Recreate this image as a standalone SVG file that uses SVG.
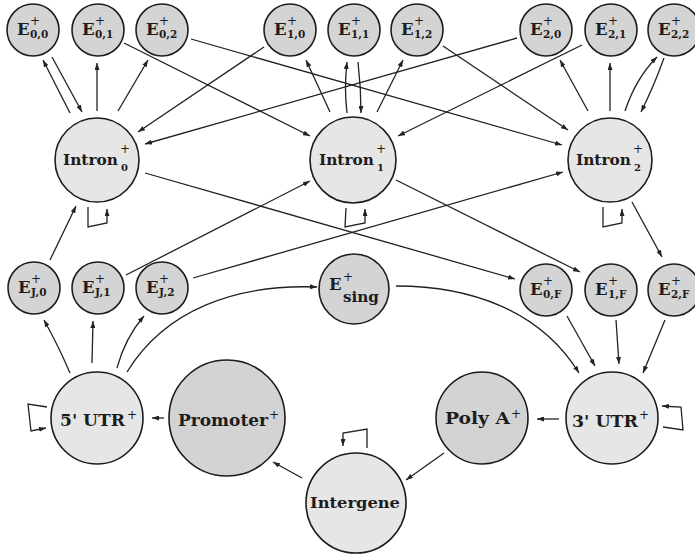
<svg xmlns="http://www.w3.org/2000/svg" width="695" height="556" viewBox="0 0 695 556">
<style>
  .bg{fill:#ffffff}
  .ne{fill:#d4d4d4;stroke:#1c1c1c;stroke-width:1.6}
  .ni{fill:#e6e6e6;stroke:#1c1c1c;stroke-width:1.6}
  .nd{fill:#d3d3d3;stroke:#1c1c1c;stroke-width:1.6}
  text{font-family:"DejaVu Serif","Liberation Serif",serif;font-weight:bold;fill:#1c1c1c}
  .eb{font-size:16.5px}
  .sup{font-size:12px;font-weight:normal}
  .sub{font-size:10.5px}
  .lb{font-size:15.5px}
  .isub{font-size:10px}
  .big{font-size:17px}
  .edge{fill:none;stroke:#222;stroke-width:1.3;marker-end:url(#ah)}
  .loop{fill:none;stroke:#222;stroke-width:1.3;marker-end:url(#ah)}
</style>
<defs>
  <marker id="ah" viewBox="0 0 7 5" refX="7" refY="2.5" markerWidth="7" markerHeight="5" markerUnits="userSpaceOnUse" orient="auto">
    <path d="M0,0 L7,2.5 L0,5 z" fill="#222"/>
  </marker>
</defs>
<rect class="bg" x="0" y="0" width="695" height="556"/>

<g id="connectors">
  <path class="edge" d="M52,57 L82,112"/>
  <path class="edge" d="M70,113 L43,60"/>
  <path class="edge" d="M97,111 L97,63"/>
  <path class="edge" d="M118,111 L148,60"/>
  <path class="edge" d="M124,43 L310,136"/>
  <path class="edge" d="M191,39 L562,145"/>
  <path class="edge" d="M264,47 L138,132"/>
  <path class="edge" d="M330,112 L306,60"/>
  <path class="edge" d="M347,113 Q344,88 347,62"/>
  <path class="edge" d="M358,62 Q361,88 361,113"/>
  <path class="edge" d="M377,112 L403,60"/>
  <path class="edge" d="M443,46 L568,130"/>
  <path class="edge" d="M517,38 L145,144"/>
  <path class="edge" d="M582,45 L398,136"/>
  <path class="edge" d="M588,111 L560,60"/>
  <path class="edge" d="M610,111 L610,63"/>
  <path class="edge" d="M625,111 Q636,78 657,57"/>
  <path class="edge" d="M664,58 Q654,86 641,112"/>
  <path class="loop" d="M88,207 L88,227 L107,223 L107,209"/>
  <path class="loop" d="M346,208 L345,227 L365,223 L365,209"/>
  <path class="loop" d="M603,207 L603,227 L622,223 L622,209"/>
  <path class="edge" d="M50,260 L76,206"/>
  <path class="edge" d="M126,275 L310,181"/>
  <path class="edge" d="M193,278 L563,172"/>
  <path class="edge" d="M145,173 L515,279"/>
  <path class="edge" d="M396,180 L580,272"/>
  <path class="edge" d="M632,202 L662,257"/>
  <path class="edge" d="M70,373 Q58,345 44,320"/>
  <path class="edge" d="M92,363 L93,321"/>
  <path class="edge" d="M117,368 Q125,338 144,316"/>
  <path class="edge" d="M127,372 C165,310 235,284 317,287"/>
  <path class="edge" d="M396,286 C470,286 540,310 579,373"/>
  <path class="edge" d="M567,316 L595,366"/>
  <path class="edge" d="M616,320 L619,364"/>
  <path class="edge" d="M665,320 L643,373"/>
  <path class="edge" d="M164,418 L152,418"/>
  <path class="edge" d="M559,419 L537,419"/>
  <path class="edge" d="M444,453 L406,480"/>
  <path class="edge" d="M302,478 L273,462"/>
  <path class="loop" d="M47,407 L28,404 L31,431 L46,428"/>
  <path class="loop" d="M663,427 L683,430 L681,407 L662,406"/>
  <path class="loop" d="M367,448 L367,429 L343,433 L343,446"/>
</g>

<g id="E00"><circle class="ne" cx="33" cy="30" r="26"/><text class="eb" x="17" y="35">E</text><text class="sup" x="30" y="25">+</text><text class="sub" x="30" y="38">0,0</text></g>
<g id="E01"><circle class="ne" cx="98" cy="30" r="26"/><text class="eb" x="82" y="35">E</text><text class="sup" x="95" y="25">+</text><text class="sub" x="95" y="38">0,1</text></g>
<g id="E02"><circle class="ne" cx="162" cy="30" r="26"/><text class="eb" x="146" y="35">E</text><text class="sup" x="159" y="25">+</text><text class="sub" x="159" y="38">0,2</text></g>
<g id="E10"><circle class="ne" cx="290" cy="30" r="26"/><text class="eb" x="274" y="35">E</text><text class="sup" x="287" y="25">+</text><text class="sub" x="287" y="38">1,0</text></g>
<g id="E11"><circle class="ne" cx="354" cy="30" r="26"/><text class="eb" x="338" y="35">E</text><text class="sup" x="351" y="25">+</text><text class="sub" x="351" y="38">1,1</text></g>
<g id="E12"><circle class="ne" cx="417" cy="30" r="26"/><text class="eb" x="401" y="35">E</text><text class="sup" x="414" y="25">+</text><text class="sub" x="414" y="38">1,2</text></g>
<g id="E20"><circle class="ne" cx="546" cy="30" r="26"/><text class="eb" x="530" y="35">E</text><text class="sup" x="543" y="25">+</text><text class="sub" x="543" y="38">2,0</text></g>
<g id="E21"><circle class="ne" cx="611" cy="30" r="26"/><text class="eb" x="595" y="35">E</text><text class="sup" x="608" y="25">+</text><text class="sub" x="608" y="38">2,1</text></g>
<g id="E22"><circle class="ne" cx="674" cy="30" r="26"/><text class="eb" x="658" y="35">E</text><text class="sup" x="671" y="25">+</text><text class="sub" x="671" y="38">2,2</text></g>

<g id="Intron0"><circle class="ni" cx="97" cy="160" r="42"/><text class="lb" x="63" y="165" textLength="55" lengthAdjust="spacingAndGlyphs">Intron</text><text class="sup" x="120" y="153">+</text><text class="isub" x="121" y="171">0</text></g>
<g id="Intron1"><circle class="ni" cx="353" cy="160" r="43"/><text class="lb" x="319" y="165" textLength="55" lengthAdjust="spacingAndGlyphs">Intron</text><text class="sup" x="376" y="153">+</text><text class="isub" x="377" y="171">1</text></g>
<g id="Intron2"><circle class="ni" cx="610" cy="160" r="42"/><text class="lb" x="576" y="165" textLength="55" lengthAdjust="spacingAndGlyphs">Intron</text><text class="sup" x="633" y="153">+</text><text class="isub" x="634" y="171">2</text></g>

<g id="EJ0"><circle class="ne" cx="34" cy="288" r="26"/><text class="eb" x="18" y="293">E</text><text class="sup" x="31" y="283">+</text><text class="sub" x="31" y="296">J,0</text></g>
<g id="EJ1"><circle class="ne" cx="98" cy="288" r="26"/><text class="eb" x="82" y="293">E</text><text class="sup" x="95" y="283">+</text><text class="sub" x="95" y="296">J,1</text></g>
<g id="EJ2"><circle class="ne" cx="162" cy="288" r="26"/><text class="eb" x="146" y="293">E</text><text class="sup" x="159" y="283">+</text><text class="sub" x="159" y="296">J,2</text></g>
<g id="Esing"><circle class="ne" cx="354" cy="289" r="35"/><text class="eb" x="329" y="290">E</text><text class="sup" x="343" y="281">+</text><text class="lb" x="343" y="302" textLength="36" lengthAdjust="spacingAndGlyphs">sing</text></g>
<g id="E0F"><circle class="ne" cx="546" cy="290" r="26"/><text class="eb" x="530" y="295">E</text><text class="sup" x="543" y="285">+</text><text class="sub" x="543" y="298">0,F</text></g>
<g id="E1F"><circle class="ne" cx="611" cy="290" r="26"/><text class="eb" x="595" y="295">E</text><text class="sup" x="608" y="285">+</text><text class="sub" x="608" y="298">1,F</text></g>
<g id="E2F"><circle class="ne" cx="674" cy="290" r="26"/><text class="eb" x="658" y="295">E</text><text class="sup" x="671" y="285">+</text><text class="sub" x="671" y="298">2,F</text></g>

<g id="UTR5"><circle class="ni" cx="97" cy="418" r="46"/><text class="big" x="60" y="426" textLength="65" lengthAdjust="spacingAndGlyphs">5' UTR</text><text class="sup" x="127" y="419">+</text></g>
<g id="Promoter"><circle class="nd" cx="227" cy="418" r="58"/><text class="big" x="178" y="426" textLength="90" lengthAdjust="spacingAndGlyphs">Promoter</text><text class="sup" x="269" y="419">+</text></g>
<g id="PolyA"><circle class="nd" cx="482" cy="418" r="46"/><text class="big" x="445" y="424" textLength="65" lengthAdjust="spacingAndGlyphs">Poly A</text><text class="sup" x="511" y="418">+</text></g>
<g id="UTR3"><circle class="ni" cx="612" cy="418" r="46"/><text class="big" x="572" y="427" textLength="66" lengthAdjust="spacingAndGlyphs">3' UTR</text><text class="sup" x="639" y="419">+</text></g>
<g id="Intergene"><circle class="ni" cx="356" cy="503" r="50"/><text class="lb" x="310" y="508" textLength="90" lengthAdjust="spacingAndGlyphs">Intergene</text></g>
</svg>
